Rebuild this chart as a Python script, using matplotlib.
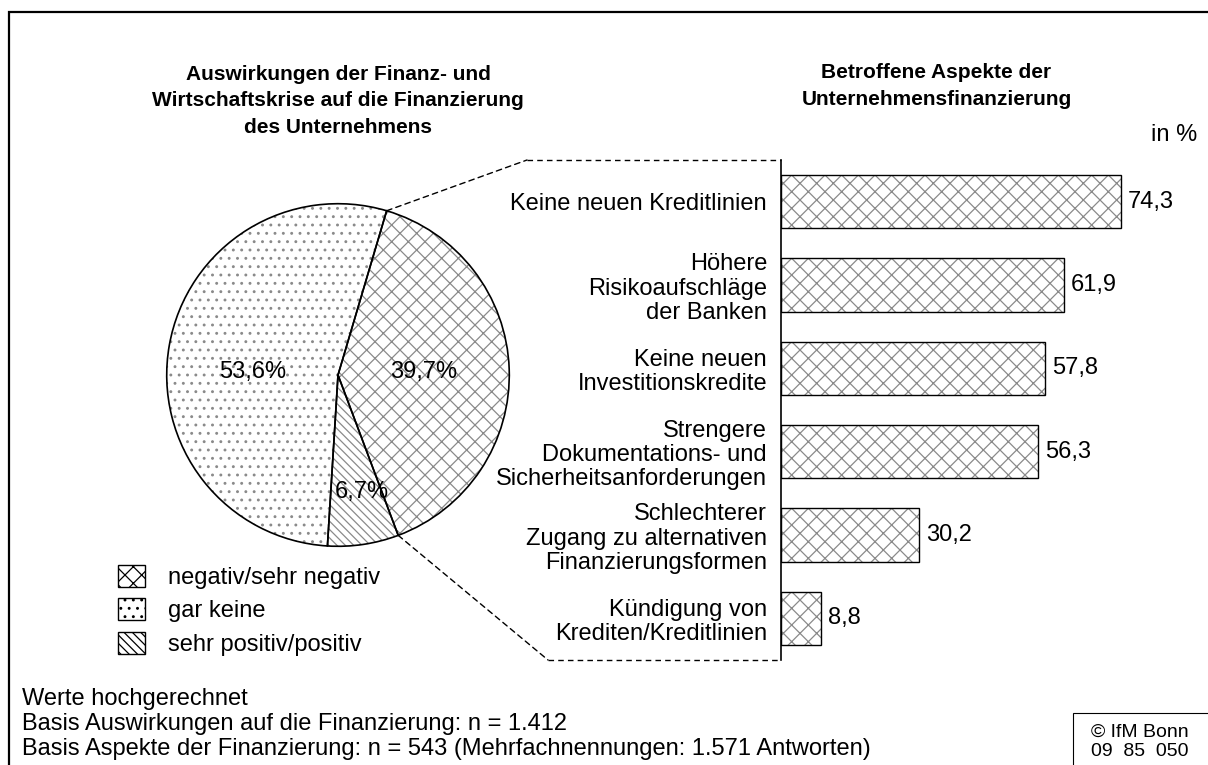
import numpy as np
import matplotlib
matplotlib.use('Agg')
from matplotlib import pyplot as plt
from matplotlib.patches import Patch, Rectangle, ConnectionPatch

plt.rcParams['font.family'] = ['Liberation Sans', 'DejaVu Sans']
plt.rcParams['hatch.linewidth'] = 0.9

FS = 17
FS_TITLE = 15

# pie data
pie_labels = ['negativ/sehr negativ', 'sehr positiv/positiv', 'gar keine']
pie_values = [39.7, 6.7, 53.6]
pie_hatches = ['xx', '\\\\\\\\', '..']

# bar data
bar_labels = ['Keine neuen Kreditlinien',
              'Höhere\nRisikoaufschläge\nder Banken',
              'Keine neuen\nInvestitionskredite',
              'Strengere\nDokumentations- und\nSicherheitsanforderungen',
              'Schlechterer\nZugang zu alternativen\nFinanzierungsformen',
              'Kündigung von\nKrediten/Kreditlinien']
bar_values = [74.3, 61.9, 57.8, 56.3, 30.2, 8.8]

footnotes = ['Werte hochgerechnet',
             'Basis Auswirkungen auf die Finanzierung: n = 1.412',
             'Basis Aspekte der Finanzierung: n = 543 (Mehrfachnennungen: 1.571 Antworten)']

W, H = 1208, 765
fig = plt.figure(figsize=(W / 100, H / 100), dpi=100)


def fig_rect(x0, y0, x1, y1):
    # pixel box (top-left origin) -> figure fraction
    return [x0 / W, 1 - y1 / H, (x1 - x0) / W, (y1 - y0) / H]


# outer frame
fig.patches.append(Rectangle((9 / W, -0.01), 1.2, 1 - 12 / H + 0.01,
                             transform=fig.transFigure, fill=False,
                             edgecolor='black', linewidth=1.6))

# ---- PIE ----
ax_pie = fig.add_axes(fig_rect(165, 202, 511, 548))
start = 73.5
wedges, _ = ax_pie.pie(pie_values, startangle=start, counterclock=False,
                       wedgeprops=dict(facecolor='white', edgecolor='#8a8a8a', linewidth=0))
for w, h in zip(wedges, pie_hatches):
    w.set_hatch(h)
ax_pie.pie(pie_values, startangle=start, counterclock=False,
           wedgeprops=dict(fill=False, edgecolor='black', linewidth=1.2))
ax_pie.set_xlim(-1.01, 1.01)
ax_pie.set_ylim(-1.01, 1.01)

label_r = [0.5, 0.7, 0.5]
label_shift = [0, 3, 8]
for w, v, r, s in zip(wedges, pie_values, label_r, label_shift):
    mid = np.deg2rad((w.theta1 + w.theta2) / 2 + s)
    ax_pie.text(r * np.cos(mid), r * np.sin(mid), f'{v:.1f}%'.replace('.', ','),
                ha='center', va='center', fontsize=FS)

ax_pie.text(0, 1.6, 'Auswirkungen der Finanz- und\nWirtschaftskrise auf die Finanzierung\ndes Unternehmens',
            ha='center', va='center', fontsize=FS_TITLE, fontweight='bold', linespacing=1.5)

# legend
handles = [Patch(facecolor='white', edgecolor='#8a8a8a', hatch=h) for h in ['xx', '..', '\\\\\\\\']]
leg = fig.legend(handles, ['negativ/sehr negativ', 'gar keine', 'sehr positiv/positiv'],
                 loc='upper left', bbox_to_anchor=(118 / W, 1 - 565 / H), frameon=False,
                 fontsize=FS, handlelength=1.15, handleheight=1.05, labelspacing=0.4,
                 handletextpad=0.95, borderaxespad=0, borderpad=0)
for p in leg.get_patches():
    p.set_edgecolor('black')

# ---- BARS ----
ax_bar = fig.add_axes(fig_rect(781, 160, 1190, 660))
y = np.arange(len(bar_values))
ax_bar.barh(y, bar_values, height=0.64, color='white', edgecolor='#8a8a8a', hatch='xx', linewidth=0)
ax_bar.barh(y, bar_values, height=0.64, fill=False, edgecolor='black', linewidth=1.0)
ax_bar.set_xlim(0, (1190 - 781) / 4.572)
ax_bar.set_ylim(len(bar_values) - 0.5, -0.5)
ax_bar.set_yticks(y)
ax_bar.set_yticklabels(bar_labels, fontsize=FS, linespacing=1.12)
ax_bar.tick_params(axis='y', length=0, pad=10)
ax_bar.set_xticks([])
for s in ['top', 'right', 'bottom']:
    ax_bar.spines[s].set_visible(False)
ax_bar.spines['left'].set_linewidth(1.2)
for yi, v in zip(y, bar_values):
    ax_bar.text(v + 1.5, yi, f'{v:.1f}'.replace('.', ','), va='center', ha='left', fontsize=FS)

ax_bar.text(0.38, 1.148, 'Betroffene Aspekte der\nUnternehmensfinanzierung', transform=ax_bar.transAxes,
            ha='center', va='center', fontsize=FS_TITLE, fontweight='bold', linespacing=1.5)
ax_bar.text(1.017, 1.05, 'in %', transform=ax_bar.transAxes, ha='right', va='center', fontsize=FS)

# dashed connectors
theta_top = np.deg2rad(wedges[0].theta2)
theta_bot = np.deg2rad(wedges[0].theta1)
for th, knee_px, yy in [(theta_top, 527, 1.0), (theta_bot, 548, 0.0)]:
    knee = -(781 - knee_px) / (1190 - 781)
    con = ConnectionPatch(xyA=(np.cos(th), np.sin(th)), coordsA=ax_pie.transData,
                          xyB=(knee, yy), coordsB=ax_bar.transAxes,
                          linestyle=(0, (4, 3)), linewidth=1.0, color='black')
    fig.add_artist(con)
    ax_bar.plot([knee, 0], [yy, yy], transform=ax_bar.transAxes, clip_on=False,
                linestyle=(0, (4, 3)), linewidth=1.0, color='black')

# footnotes
for i, t in enumerate(footnotes):
    fig.text(22 / W, 1 - (699 + i * 25) / H, t, ha='left', va='center', fontsize=FS)

# source box
fig.patches.append(Rectangle((1073 / W, -0.01), 0.2, (765 - 713) / H + 0.01,
                             transform=fig.transFigure, fill=False,
                             edgecolor='black', linewidth=0.8))
fig.text(1091 / W, 1 - 742 / H, '© IfM Bonn\n09  85  050', ha='left', va='center',
         fontsize=14, linespacing=1.15)

plt.savefig('out.png', dpi=100)
